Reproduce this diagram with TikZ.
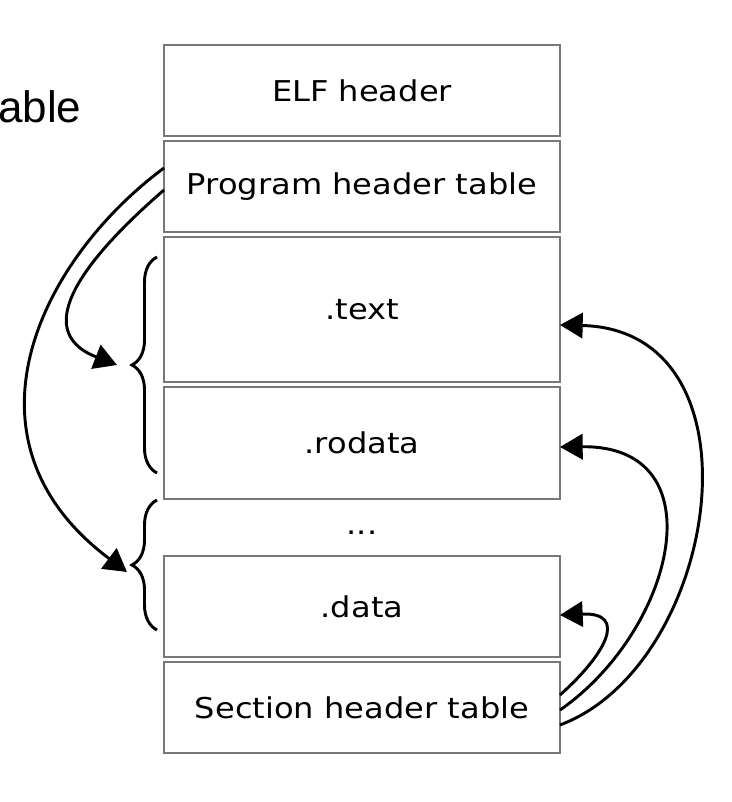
\documentclass[tikz,border=0pt]{standalone}
\usepackage{fontspec}
\setmainfont{DejaVu Sans}
\newfontfamily\boxfont[FakeStretch=1.12]{DejaVu Sans}
\newfontfamily\cutfont{Liberation Sans}
\usetikzlibrary{arrows.meta,positioning,decorations.pathreplacing}
\definecolor{edge}{RGB}{120,120,120}
\tikzset{seg/.style={draw=edge,line width=1.1pt,minimum width=297pt,inner sep=0pt,outer sep=0pt,font=\boxfont\fontsize{21.5pt}{24pt}\selectfont},link/.style={-{Triangle[length=17pt,width=19pt]},line width=2.2pt},grp/.style={decorate,decoration={brace,amplitude=18.75pt},line width=2.2pt}}

\begin{document}
\begin{tikzpicture}[x=0.75pt,y=0.75pt,node distance=3.75pt]
\useasboundingbox (0,0) rectangle (731,-802);
\node[font=\cutfont\fontsize{33pt}{36pt}\selectfont,anchor=base west,inner sep=0pt] (cut) at (-2,-123) {able};
\node[seg,minimum height=68.25pt] (elf) at (362,-90.5) {ELF header};
\node[seg,minimum height=68.25pt,below=of elf] (pht) {Program header table};
\node[seg,minimum height=108.75pt,below=of pht] (text) {.text};
\node[seg,minimum height=84pt,below=of text] (rodata) {.rodata};
\node[font=\boxfont\fontsize{21.5pt}{24pt}\selectfont,inner sep=0pt,below=24pt of rodata] (dots) {...};
\node[seg,minimum height=75.75pt,below=42.75pt of rodata] (data) {.data};
\node[seg,minimum height=68.25pt,below=of data] (sht) {Section header table};
\coordinate (codeseg) at (117,-365);
\coordinate (dataseg) at (127,-572);
% segments grouped by the program header table
\draw[grp] (157,-473) -- (157,-257);
\draw[grp] (157,-630) -- (157,-500);
\draw[link] ([yshift=-2.6pt]pht.west) .. controls +(-75,-65) and +(-90,35) .. (codeseg);
\draw[link] ([yshift=13.9pt]pht.west) .. controls +(-124,-92) and +(-176,132) .. (dataseg);
% sections described by the section header table
\draw[link] ([yshift=9.4pt]sht.east) .. controls +(45,40) and +(69,3) .. ([yshift=-6.4pt]data.east);
\draw[link] ([yshift=-1.9pt]sht.east) .. controls +(115,80) and +(159,2) .. ([yshift=-3pt]rodata.east);
\draw[link] ([yshift=-13.1pt]sht.east) .. controls +(160,60) and +(209,-5) .. ([yshift=-11.6pt]text.east);
\end{tikzpicture}
\end{document}
